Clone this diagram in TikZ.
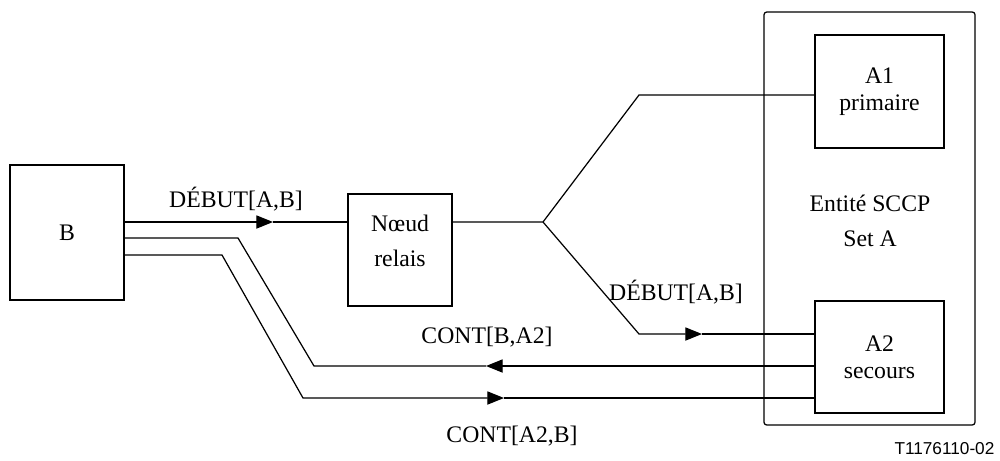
\documentclass[tikz,border=0pt]{standalone}
\usepackage{fontspec}
\setmainfont{Liberation Serif}
\newfontfamily\labsans{Liberation Sans}
\usetikzlibrary{arrows.meta}
\begin{document}
\begin{tikzpicture}[x=0.02cm,y=-0.02cm,
  line width=0.7pt,
  every node/.style={font=\fontsize{13.5}{15.5}\selectfont},
  boxst/.style={draw, line width=0.7pt, align=center, inner sep=0pt},
  lbl/.style={inner sep=0pt},
  tri/.style={-{Triangle[length=9.5pt,width=7.5pt]}}]
\useasboundingbox (0,0) rectangle (1000,460);
% boxes
\node[boxst, minimum width=2.28cm, minimum height=2.7cm] (B) at (67,232.5) {B};
\node[boxst, minimum width=2.08cm, minimum height=2.24cm] (Nr) at (400,250) {};
\node[lbl, align=center, font=\fontsize{13.5}{20}\selectfont] (Nt) at (400,241) {N\oe ud\\relais};
\node[draw, line width=0.7pt, rounded corners=1.5pt, minimum width=4.22cm, minimum height=8.26cm, inner sep=0pt] (E) at (869.5,218.5) {};
\node[lbl, align=center, font=\fontsize{13.5}{20}\selectfont] (Et) at (870,221) {Entité SCCP\\Set A};
\node[boxst, minimum width=2.58cm, minimum height=2.26cm] (A1) at (879.5,91.5) {A1\\primaire};
\node[boxst, minimum width=2.58cm, minimum height=2.24cm] (A2) at (879.5,357) {A2\\secours};
% coordinates
\coordinate (br) at (543,222);
\coordinate (u1) at (639,95);
\coordinate (l1) at (639,334);
\coordinate (c1a) at (238,238);
\coordinate (c1b) at (314,366);
\coordinate (c2a) at (222,255);
\coordinate (c2b) at (303,398);
\coordinate (t1) at (273,222);
\coordinate (t2) at (702,334);
\coordinate (t3) at (486,366);
\coordinate (t4) at (504,398);
% connectors
\draw[tri] (B.east|-br) -- (t1);
\draw (t1) -- (Nr.west|-br);
\draw (Nr.east|-br) -- (br) -- (u1) -- (A1.west|-u1);
\draw[tri] (br) -- (l1) -- (t2);
\draw (t2) -- (A2.west|-l1);
\draw[tri] (A2.west|-c1b) -- (t3);
\draw (t3) -- (c1b) -- (c1a) -- (B.east|-c1a);
\draw[tri] (B.east|-c2a) -- (c2a) -- (c2b) -- (t4);
\draw (t4) -- (A2.west|-c2b);
% labels
\node[lbl] (L1) at (236,199) {DÉBUT[A,B]};
\node[lbl] (L2) at (676,292) {DÉBUT[A,B]};
\node[lbl] (L3) at (487,337) {CONT[B,A2]};
\node[lbl] (L4) at (512,436) {CONT[A2,B]};
\node[lbl, anchor=east, font=\labsans\fontsize{9.8}{11}\selectfont] (T) at (995,449) {T1176110-02};
\end{tikzpicture}
\end{document}
